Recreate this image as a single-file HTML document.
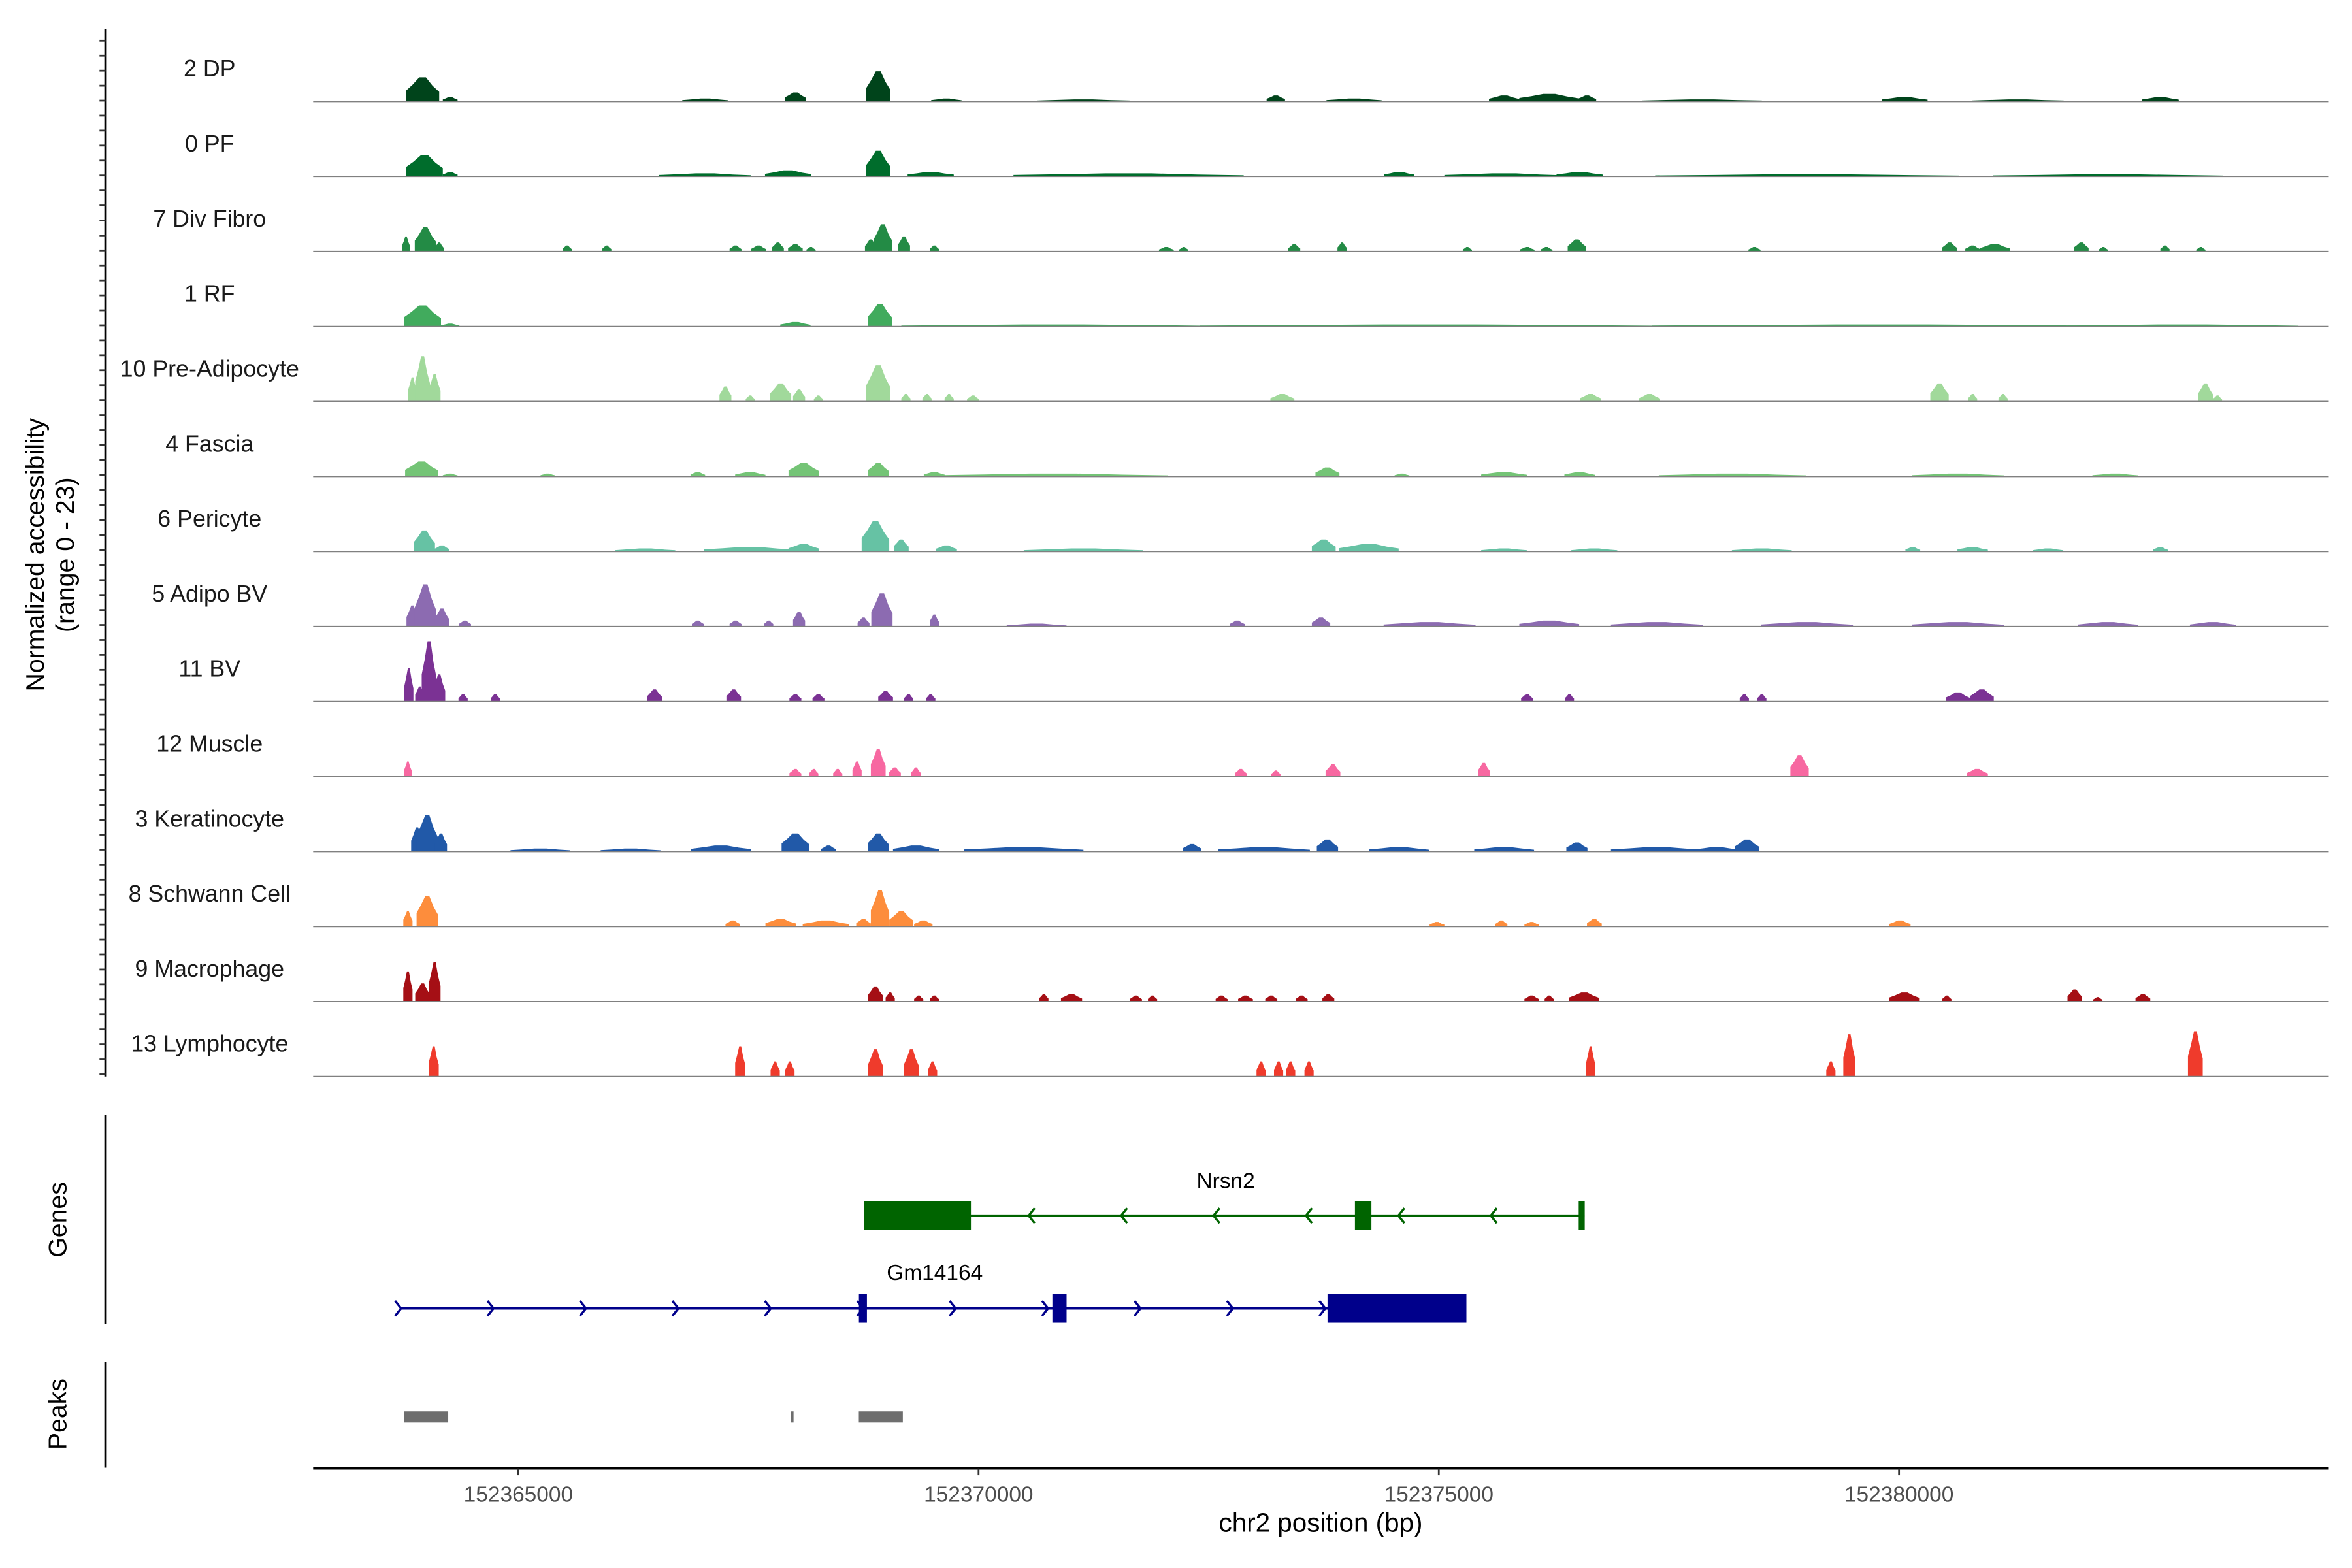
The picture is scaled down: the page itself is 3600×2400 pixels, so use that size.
<!DOCTYPE html>
<html><head><meta charset="utf-8"><style>
html,body{margin:0;padding:0;background:#fff;}
svg{display:block;}
text{font-family:"Liberation Sans",Arial,sans-serif;}
</style></head><body>
<svg id="chart" xmlns="http://www.w3.org/2000/svg" width="3600" height="2400" viewBox="0 0 1560 1040">
<rect x="0" y="0" width="1560" height="1040" fill="#fff"/>
<g id="tracks"></g>
<g id="genes"></g>
<g id="peaks"></g>
<g id="axes"></g>
<text x="33" y="368" transform="rotate(-90 33 368)" text-anchor="middle" font-size="17" fill="#000"><tspan x="33" dy="-4">Normalized accessibility</tspan><tspan x="33" dy="20">(range 0 - 23)</tspan></text>
<text x="44" y="809" transform="rotate(-90 44 809)" text-anchor="middle" font-size="17" fill="#000">Genes</text>
<text x="44" y="938" transform="rotate(-90 44 938)" text-anchor="middle" font-size="17" fill="#000">Peaks</text>
<text x="876" y="1016" text-anchor="middle" font-size="17.5" fill="#000">chr2 position (bp)</text>
</svg>
<script>
const trackNames = ["2 DP","0 PF","7 Div Fibro","1 RF","10 Pre-Adipocyte","4 Fascia","6 Pericyte","5 Adipo BV","11 BV","12 Muscle","3 Keratinocyte","8 Schwann Cell","9 Macrophage","13 Lymphocyte"];
const trackColors = ["#00441b","#006d2c","#238b45","#41ab5d","#a1d99b","#74c476","#66c2a4","#8c6bb1","#7b3294","#f768a1","#2159a8","#fd8d3c","#a50f15","#ef3b2c"];
// peaks: [center kb, normalized height (0-23), width kb]
const dpPeaks = [[152363.96,8,0.36],[152364.26,1.5,0.16],[152367.03,1,0.5],[152368.01,3,0.23],[152368.91,10,0.26],[152369.65,1,0.33],[152371.14,0.7,1],[152373.23,2,0.2],[152374.08,1,0.6],[152375.71,2,0.33],[152376.20,2.5,0.65],[152376.61,2,0.2],[152377.86,0.7,1.3],[152380.06,1.5,0.5],[152381.29,0.7,1],[152382.84,1.5,0.4]];
const pfPeaks = [[152363.98,7,0.4],[152364.26,1.5,0.16],[152367.03,1,1],[152367.93,2,0.5],[152368.91,8.5,0.26],[152369.48,1.5,0.5],[152371.63,1,2.5],[152374.57,1.5,0.33],[152375.71,1,1.3],[152376.53,1.5,0.5],[152379.0,0.7,3.3],[152382.27,0.7,2.5]];
const divFibroPeaks = [[152363.78,5,0.08],[152363.99,8,0.23],[152364.14,3,0.1],[152365.53,2,0.1],[152365.96,2,0.1],[152367.36,2,0.13],[152367.61,2,0.16],[152367.82,3,0.13],[152368.01,2.5,0.16],[152368.18,1.5,0.1],[152368.83,4,0.13],[152368.96,9,0.2],[152369.19,5,0.13],[152369.52,2,0.1],[152372.04,1.5,0.16],[152372.23,1.5,0.1],[152373.43,2.5,0.13],[152373.95,3,0.1],[152375.31,1.5,0.1],[152375.96,1.5,0.16],[152376.17,1.5,0.13],[152376.50,4,0.2],[152378.43,1.5,0.13],[152380.55,3,0.16],[152380.80,2,0.16],[152381.04,2.5,0.33],[152381.98,3,0.16],[152382.22,1.5,0.1],[152382.89,2,0.1],[152383.28,1.5,0.1]];
const rfPeaks = [[152363.96,7,0.4],[152364.26,1,0.2],[152368.01,1.5,0.33],[152368.93,7.5,0.26],[152370.81,0.7,3.3],[152374.9,0.7,5],[152379.82,0.7,5],[152383.09,0.7,2.5]];
const preAdipoPeaks = [[152363.85,8,0.1],[152363.96,15,0.16],[152364.09,9,0.13],[152367.25,5,0.13],[152367.52,2,0.1],[152367.85,6,0.23],[152368.05,4,0.13],[152368.26,2,0.1],[152368.91,12,0.26],[152369.21,2.5,0.1],[152369.44,2.5,0.1],[152369.68,2.5,0.1],[152369.94,2,0.13],[152373.30,2.5,0.26],[152376.65,2.5,0.23],[152377.29,2.5,0.23],[152380.44,6,0.2],[152380.80,2.5,0.1],[152381.13,2.5,0.1],[152383.33,6,0.16],[152383.46,2,0.1]];
const fasciaPeaks = [[152363.95,5,0.36],[152364.26,1,0.16],[152365.32,1,0.16],[152366.95,1.5,0.16],[152367.52,1.5,0.33],[152368.10,4.5,0.33],[152368.91,4.5,0.23],[152369.52,1.5,0.23],[152370.81,1,2.5],[152373.79,3,0.26],[152374.60,1,0.16],[152375.71,1.5,0.5],[152376.53,1.5,0.33],[152378.19,1,1.6],[152380.64,1,1],[152382.35,1,0.5]];
const pericytePeaks = [[152363.98,7,0.23],[152364.17,2,0.16],[152366.38,1,0.65],[152367.52,1.5,1],[152368.10,2.5,0.33],[152368.88,10,0.3],[152369.16,4,0.16],[152369.65,2,0.23],[152371.14,1,1.3],[152373.75,4,0.26],[152374.24,2.5,0.65],[152375.71,1,0.5],[152376.69,1,0.5],[152378.51,1,0.65],[152380.15,1.5,0.16],[152380.80,1.5,0.33],[152381.62,1,0.33],[152382.84,1.5,0.16]];
const adipoBvPeaks = [[152363.85,7,0.13],[152363.99,14,0.23],[152364.17,6,0.16],[152364.42,2,0.13],[152366.95,2,0.13],[152367.36,2,0.13],[152367.72,2,0.1],[152368.05,5,0.13],[152368.75,3,0.13],[152368.95,11,0.23],[152369.52,4,0.1],[152370.63,1,0.65],[152372.81,2,0.16],[152373.72,3,0.2],[152374.9,1.5,1],[152376.20,2,0.65],[152377.37,1.5,1],[152379.0,1.5,1],[152380.64,1.5,1],[152382.27,1.5,0.65],[152383.41,1.5,0.5]];
const bvPeaks = [[152363.81,11,0.1],[152363.93,5,0.1],[152364.03,20,0.16],[152364.14,9,0.13],[152364.40,2.5,0.1],[152364.75,2.5,0.1],[152366.48,4,0.16],[152367.34,4,0.16],[152368.01,2.5,0.13],[152368.26,2.5,0.13],[152368.99,3.5,0.16],[152369.24,2.5,0.1],[152369.48,2.5,0.1],[152375.96,2.5,0.13],[152376.42,2.5,0.1],[152378.32,2.5,0.1],[152378.51,2.5,0.1],[152380.64,3,0.26],[152380.90,4,0.26]];
const musclePeaks = [[152363.80,5,0.08],[152368.01,2.5,0.13],[152368.21,2.5,0.1],[152368.47,2.5,0.1],[152368.68,5,0.1],[152368.91,9,0.16],[152369.09,3,0.13],[152369.32,3,0.1],[152372.85,2.5,0.13],[152373.23,2,0.1],[152373.85,4,0.16],[152375.49,4.5,0.13],[152378.92,7,0.2],[152380.85,2.5,0.23]];
const keratPeaks = [[152363.90,8,0.13],[152364.01,12,0.23],[152364.16,6,0.13],[152365.24,1,0.65],[152366.22,1,0.65],[152367.20,2,0.65],[152368.01,6,0.3],[152368.37,2,0.16],[152368.91,6,0.23],[152369.32,2,0.5],[152370.49,1.5,1.3],[152372.32,2.5,0.2],[152373.10,1.5,1],[152373.79,4,0.23],[152374.57,1.5,0.65],[152375.71,1.5,0.65],[152376.50,3,0.23],[152377.37,1.5,1],[152378.02,1.5,0.5],[152378.35,4,0.26]];
const schwannPeaks = [[152363.80,5,0.1],[152364.01,10,0.23],[152367.33,2,0.16],[152367.85,2.5,0.33],[152368.34,2,0.5],[152368.75,2.5,0.16],[152368.93,12,0.2],[152369.16,5,0.26],[152369.40,2,0.2],[152374.98,1.5,0.16],[152375.68,2,0.13],[152376.01,1.5,0.16],[152376.69,2.5,0.16],[152380.01,2,0.23]];
const macroPeaks = [[152363.80,10,0.1],[152363.96,6,0.16],[152364.09,13,0.13],[152368.88,5,0.16],[152369.04,3,0.1],[152369.35,2,0.1],[152369.52,2,0.1],[152370.71,2.5,0.1],[152371.01,2.5,0.23],[152371.71,2,0.13],[152371.89,2,0.1],[152372.64,2,0.13],[152372.90,2,0.16],[152373.18,2,0.13],[152373.51,2,0.13],[152373.80,2.5,0.13],[152376.01,2,0.16],[152376.20,2,0.1],[152376.58,3,0.33],[152380.06,3,0.33],[152380.52,2,0.1],[152381.91,4,0.16],[152382.16,1.5,0.1],[152382.65,2.5,0.16]];
const lymphoPeaks = [[152364.08,10,0.11],[152367.41,10,0.11],[152367.79,5,0.1],[152367.95,5,0.1],[152368.88,9,0.16],[152369.27,9,0.16],[152369.50,5,0.1],[152373.07,5,0.1],[152373.26,5,0.1],[152373.39,5,0.1],[152373.59,5,0.1],[152376.65,10,0.1],[152379.26,5,0.1],[152379.46,14,0.13],[152383.22,15,0.16]];
const trackPeaks = [dpPeaks,pfPeaks,divFibroPeaks,rfPeaks,preAdipoPeaks,fasciaPeaks,pericytePeaks,adipoBvPeaks,bvPeaks,musclePeaks,keratPeaks,schwannPeaks,macroPeaks,lymphoPeaks];
const xTicks = [152365000,152370000,152375000,152380000];
const nrsn2Span = [152368.754,152376.585];
const nrsn2Exons = [[152368.754,152369.917],[152374.089,152374.268],[152376.52,152376.585]];
const gmSpan = [152363.71,152375.30];
const gmExons = [[152368.70,152368.787],[152370.802,152370.956],[152373.791,152375.30]];
const peakRegions = [[152363.762,152364.238],[152367.96,152367.99],[152368.699,152369.177]];

const NS='http://www.w3.org/2000/svg';
const xScale = kb => 343.8 + (kb - 152365) * 61.05;
const yUnit = 2.0;
const trackTop = 67.3, trackStep = 49.75;
function mk(tag, attrs, parent){const e=document.createElementNS(NS,tag);for(const k in attrs)e.setAttribute(k,attrs[k]);parent.appendChild(e);return e;}
const tracksG=document.getElementById('tracks');
trackNames.forEach((name,i)=>{
  const base = trackTop + i*trackStep;
  const g=mk('g',{},tracksG);
  
  
  trackPeaks[i].forEach(p=>{
    const c=xScale(p[0]), w=Math.max(p[2]*61.05,2), h=p[1]*yUnit;
    const s=c-w/2, e=c+w/2;
    const pts=[[s,base],[s,base-h*0.45],[s+w*0.2,base-h*0.7],[c-w*0.1,base-h],[c+w*0.1,base-h],[e-w*0.2,base-h*0.65],[e,base-h*0.4],[e,base]];
    const poly=mk('polygon',{points:pts.map(q=>q[0].toFixed(1)+','+q[1].toFixed(1)).join(' '),fill:trackColors[i]},g);
    
    
  });
  const bl=mk('line',{x1:207.7,x2:1544.6,y1:base,y2:base,stroke:'#808080','stroke-width':0.9},g);
  
  
  const t=mk('text',{x:139,y:base-16.5,'text-anchor':'middle','font-size':15.5,fill:'#1a1a1a'},g);
  t.textContent=name;
  
  
});
const axesG=document.getElementById('axes');
const yax=mk('line',{x1:70,x2:70,y1:19.5,y2:714,stroke:'#000','stroke-width':1.6},axesG);


for(let k=0;k<=69;k++){
  const y=27+k*9.936;
  const tk=mk('line',{x1:66,x2:70,y1:y,y2:y,stroke:'#333','stroke-width':1.2},axesG);
  
  
}
const gax=mk('line',{x1:70,x2:70,y1:739.5,y2:878.2,stroke:'#000','stroke-width':1.6},axesG);


const pax=mk('line',{x1:70,x2:70,y1:903.2,y2:973.5,stroke:'#000','stroke-width':1.6},axesG);


const xax=mk('line',{x1:207.7,x2:1544.6,y1:974,y2:974,stroke:'#000','stroke-width':1.6},axesG);


xTicks.forEach(v=>{
  const x=xScale(v/1000);
  const tk=mk('line',{x1:x,x2:x,y1:974,y2:978.5,stroke:'#333','stroke-width':1.2},axesG);
  
  
  const tl=mk('text',{x:x,y:996,'text-anchor':'middle','font-size':14.5,fill:'#4d4d4d'},axesG);
  tl.textContent=String(v);
  
  
});
const genesG=document.getElementById('genes');
function drawGene(span,exons,y,color,dir,label,lx,ly,key){
  const g=mk('g',{},genesG);
  
  
  const x1=xScale(span[0]),x2=xScale(span[1]);
  const ln=mk('line',{x1:x1,x2:x2,y1:y,y2:y,stroke:color,'stroke-width':1.6},g);
  
  
  const startA = dir>0 ? x1 : x2;
  for(let k=0;k<20;k++){
    const ax = dir>0 ? startA + k*61.3 : startA - 61.3*(k+1);
    if(ax<x1-1||ax>x2+1) break;
    const pth=mk('path',{d:dir>0?`M${ax-3},${y-5} L${ax+1},${y} L${ax-3},${y+5}`:`M${ax+3},${y-5} L${ax-1},${y} L${ax+3},${y+5}`,fill:'none',stroke:color,'stroke-width':1.5},g);
    
    
  }
  exons.forEach(ex=>{
    const r=mk('rect',{x:xScale(ex[0]),y:y-9.5,width:Math.max(xScale(ex[1])-xScale(ex[0]),4),height:19,fill:color},g);
    
    
  });
  const t=mk('text',{x:lx,y:ly,'text-anchor':'middle','font-size':14.5,fill:'#000'},g);
  t.textContent=label;
  
  
}
drawGene(nrsn2Span,nrsn2Exons,806.3,'#006400',-1,'Nrsn2',813,788,'nrsn2');
drawGene(gmSpan,gmExons,867.8,'#00008b',1,'Gm14164',620,849,'gm14164');
const peaksG=document.getElementById('peaks');
peakRegions.forEach(p=>{
  const r=mk('rect',{x:xScale(p[0]),y:936.1,width:Math.max(xScale(p[1])-xScale(p[0]),1.5),height:7.4,fill:'#6e6e6e'},peaksG);
  
  
});
</script>
</body></html>
